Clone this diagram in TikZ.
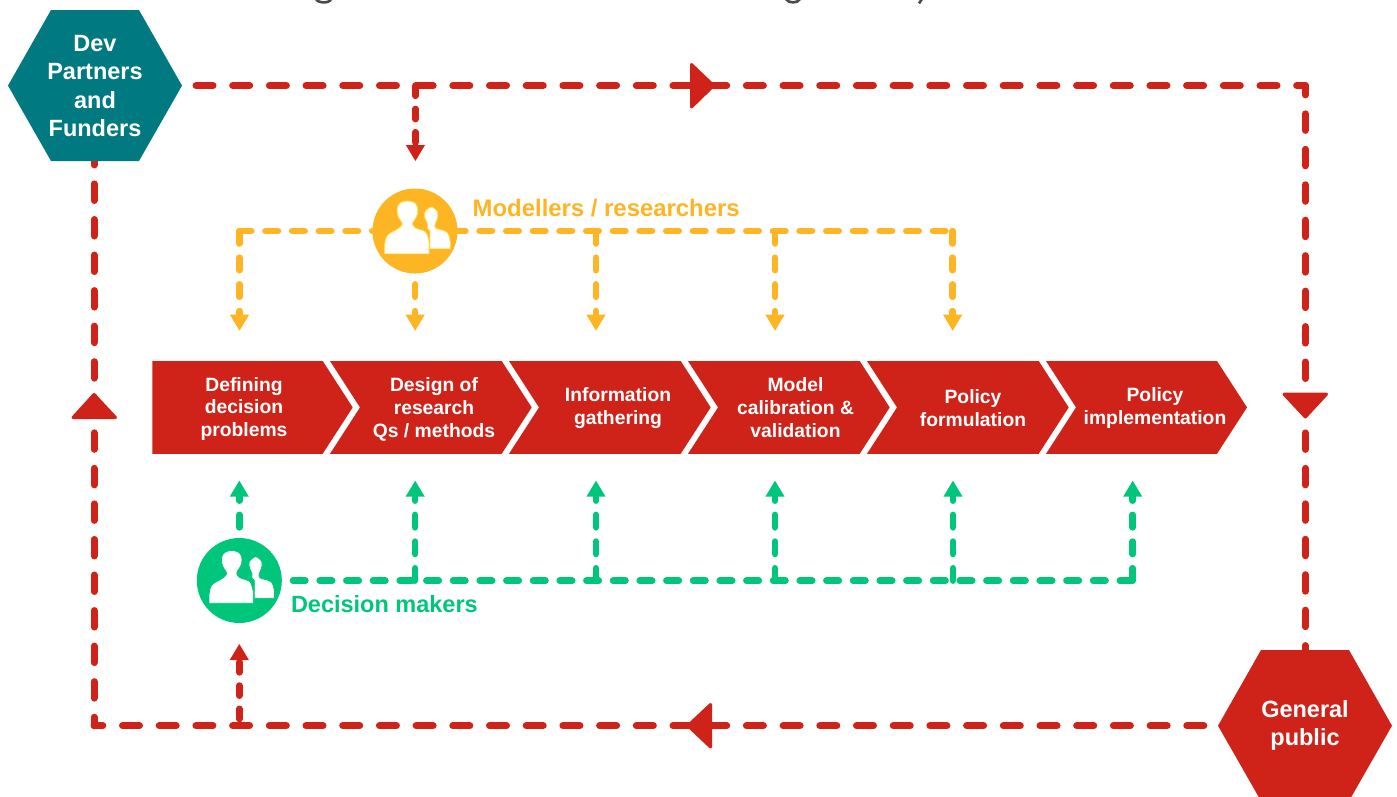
\documentclass[tikz,border=0pt]{standalone}
\usepackage{fontspec}
\setmainfont{Liberation Sans}
\usetikzlibrary{calc}
\definecolor{cred}{HTML}{CF2219}
\definecolor{cteal}{HTML}{007A80}
\definecolor{cyel}{HTML}{FDB523}
\definecolor{cgrn}{HTML}{00C67C}
\definecolor{cyelline}{HTML}{FFE45C}
\definecolor{ctitle}{HTML}{4A4A4A}
\tikzset{
  redline/.style={draw=cred,line width=7pt,line cap=round,line join=round},
  thinredline/.style={draw=cred,line width=6.5pt,line cap=round,line join=round,dash pattern=on 10.2pt off 13.1pt},
  yelline/.style={draw=cyel,line width=6.5pt,line cap=round,line join=round,dash pattern=on 12.5pt off 14.17pt},
  grnline/.style={draw=cgrn,line width=6.5pt,line cap=round,line join=round,dash pattern=on 12.5pt off 14.17pt},
  chevlabel/.style={text=white,font=\bfseries\fontsize{19.3}{23}\selectfont,align=center,inner sep=0pt},
  hexlabel/.style={text=white,font=\bfseries\fontsize{23.5}{28.4}\selectfont,align=center,inner sep=0pt},
  rolelabel/.style={font=\bfseries\fontsize{23.9}{28}\selectfont,inner sep=0pt,anchor=west},
  rolelabelb/.style={font=\bfseries\fontsize{23.5}{28}\selectfont,inner sep=0pt,anchor=west},
  rolecircle/.style={circle,minimum size=85pt,inner sep=0pt},
  bighead/.style={fill=cred,draw=cred,line width=3pt,line join=round},
}
\newcommand{\smallhead}[3]{\fill[#1] ($(#2)+(-9.6,-16*#3)$) -- ($(#2)+(9.6,-16*#3)$) -- (#2) -- cycle;}
\newcommand{\peopleicon}[1]{%
  \fill[white,draw=#1,line width=.8pt] (15,17.8) -- (15,0) -- plot[smooth,tension=.55] coordinates {(12.4,-3) (12.6,-7.2) (10.2,-12.5) (10,-19) (16.3,-23.8) (22.5,-19) (22.3,-12.5) (20.2,-7.2) (20.6,-2.8) (31.7,1.2) (35,9.5) (35,17.8)} -- cycle;
  \fill[white,draw=#1,line width=.8pt] (-30.3,22.8) -- plot[smooth,tension=.55] coordinates {(-30.3,14.5) (-27.6,4.5) (-16,-2.8) (-12.6,-7.2) (-15.5,-12) (-17.5,-17) (-17.5,-24) (-14,-28.5) (-7.6,-30) (-1,-28.5) (2.4,-24) (2.4,-17) (0,-12) (-2.6,-7.2) (0.7,-2.8) (10.7,1.2) (14,11.2)} -- (14,22.8) -- cycle;
}
\begin{document}
\begin{tikzpicture}[x=1pt,y=-1pt]
\useasboundingbox (0,0) rectangle (1397,796);
\clip (0,0) rectangle (1397,796);

% remnants of the cropped title
\draw[ctitle,line width=2.6pt] (316,-1) .. controls (318,3.5) and (330,3.5) .. (331,-1);
\draw[ctitle,line width=2.6pt] (786,-1) .. controls (788,3.5) and (798,3.5) .. (800,-1);
\draw[ctitle,line width=2.6pt] (922,-1) -- (919,3.5);

% anchors
\coordinate (tstart) at (196,85.6);
\coordinate (tbranch) at (415.4,85.6);
\coordinate (tcorner) at (1305.3,85.6);
\coordinate (tbranchend) at (415.4,150);
\coordinate (gptop) at (1305.3,655);
\coordinate (bstart) at (1203.8,725.7);
\coordinate (bcorner) at (94,725.7);
\coordinate (bbranch) at (239.3,719);
\coordinate (bbranchend) at (239.3,652);
\coordinate (devbot) at (94,155);

\coordinate (ycl) at (384.67,231);
\coordinate (ycr) at (452.9,231);
\coordinate (yl) at (239.5,231);
\coordinate (yr) at (952.7,231);
\coordinate (ya) at (415.2,231);
\coordinate (yb) at (596,231);
\coordinate (yc) at (775,231);
\coordinate (y1t) at (239.5,325);
\coordinate (y2t) at (415.2,325);
\coordinate (y3t) at (596,325);
\coordinate (y4t) at (775,325);
\coordinate (y5t) at (952.7,325);
\coordinate (y1h) at (239.5,330.7);
\coordinate (y2h) at (415.2,330.7);
\coordinate (y3h) at (596,330.7);
\coordinate (y4h) at (775,330.7);
\coordinate (y5h) at (952.7,330.7);

\coordinate (gst) at (266.3,580.7);
\coordinate (g1) at (239.3,580.7);
\coordinate (g2) at (415.2,580.7);
\coordinate (g3) at (596,580.7);
\coordinate (g4) at (775,580.7);
\coordinate (g5) at (953,580.7);
\coordinate (g6) at (1132.7,580.7);
\coordinate (g1t) at (239.3,486);
\coordinate (g2t) at (415.2,486);
\coordinate (g3t) at (596,486);
\coordinate (g4t) at (775,486);
\coordinate (g5t) at (953,486);
\coordinate (g6t) at (1132.7,486);
\coordinate (g1h) at (239.3,480.7);
\coordinate (g2h) at (415.2,480.7);
\coordinate (g3h) at (596,480.7);
\coordinate (g4h) at (775,480.7);
\coordinate (g5h) at (953,480.7);
\coordinate (g6h) at (1132.7,480.7);

% red loop
\draw[redline,dash pattern=on 17pt off 19.69pt] (tstart) -- (tcorner);
\draw[redline,dash pattern=on 16.5pt off 18.95pt,dash phase=7.2pt] (tcorner) -- (gptop);
\draw[redline,dash pattern=on 17pt off 19.7pt] (bstart) -- (bcorner);
\draw[redline,dash pattern=on 16.5pt off 19.05pt,dash phase=8pt] (bcorner) -- (devbot);
\draw[thinredline] (tbranch) -- (tbranchend);
\draw[thinredline] (bbranch) -- (bbranchend);
% big triangles
\path[bighead] (691.5,64.5) -- (691.5,107) -- (713.5,85.6) -- cycle;
\path[bighead] (710.5,704.5) -- (710.5,747) -- (688,725.7) -- cycle;
\path[bighead] (1284,394.2) -- (1326.5,394.2) -- (1305.3,417) -- cycle;
\path[bighead] (73,417.5) -- (115.5,417.5) -- (94,394.5) -- cycle;
% small red heads
\coordinate (h1) at (415.4,161);
\coordinate (h2) at (239.3,644);
\smallhead{cred}{h1}{1}
\smallhead{cred}{h2}{-1}

% yellow
\draw[yelline] (ycr) -- (yr);
\draw[yelline] (yr) -- (y5t);
\draw[yelline] (ycl) -- (yl);
\draw[yelline] (yl) -- (y1t);
\draw[yelline] (ya) -- (y2t);
\draw[yelline] (yb) -- (y3t);
\draw[yelline] (yc) -- (y4t);
\smallhead{cyel}{y1h}{1}
\smallhead{cyel}{y2h}{1}
\smallhead{cyel}{y3h}{1}
\smallhead{cyel}{y4h}{1}
\smallhead{cyel}{y5h}{1}

% green
\draw[grnline] (gst) -- (g6);
\draw[grnline] (g6) -- (g6t);
\draw[grnline] (g1) -- (g1t);
\draw[grnline] (g2) -- (g2t);
\draw[grnline] (g3) -- (g3t);
\draw[grnline] (g4) -- (g4t);
\draw[grnline] (g5) -- (g5t);
\smallhead{cgrn}{g1h}{-1}
\smallhead{cgrn}{g2h}{-1}
\smallhead{cgrn}{g3h}{-1}
\smallhead{cgrn}{g4h}{-1}
\smallhead{cgrn}{g5h}{-1}
\smallhead{cgrn}{g6h}{-1}

% chevrons
\fill[cred] (152.3,361) -- (322.7,361) -- (352.7,407.4) -- (322.7,453.8) -- (152.3,453.8) -- cycle;
\foreach \x in {330,509,688,867}{
  \fill[cred] (\x,361) -- (\x+171.7,361) -- (\x+201.7,407.4) -- (\x+171.7,453.8) -- (\x,453.8) -- (\x+30,407.4) -- cycle;
}
\fill[cred] (1046,361) -- (1217,361) -- (1247,407.4) -- (1217,453.8) -- (1046,453.8) -- (1076,407.4) -- cycle;

\node[chevlabel] (c1) at (244,409) {Defining\\decision\\problems};
\node[chevlabel] (c2) at (434,409) {Design of\\research\\Qs / methods};
\node[chevlabel] (c3) at (618,408) {Information\\gathering};
\node[chevlabel] (c4) at (795.5,407.5) {Model\\calibration \&\\validation};
\node[chevlabel] (c5) at (973,408.5) {Policy\\formulation};
\node[chevlabel] (c6) at (1155,408) {Policy\\implementation};

% hexagons
\fill[cteal] (8,85.6) -- (51,10) -- (139,10) -- (182,85.6) -- (139,161) -- (51,161) -- cycle;
\fill[cred] (1218,725.7) -- (1261,650) -- (1349,650) -- (1392,725.7) -- (1349,801) -- (1261,801) -- cycle;
\node[hexlabel] (dev) at (95,86) {Dev\\Partners\\and\\Funders};
\node[hexlabel] (pub) at (1305,725.5) {General\\public};

% people
\node[rolecircle,fill=cyel] (mod) at (415,231) {};
\node[rolecircle,fill=cgrn] (dec) at (239.3,580.5) {};
\begin{scope}[shift={(mod.center)}]\peopleicon{cyelline}\end{scope}
\begin{scope}[shift={(dec.center)}]\peopleicon{cgrn}\end{scope}
\node[rolelabel,text=cyel] (modl) at (472.5,208.5) {Modellers / researchers};
\node[rolelabelb,text=cgrn] (decl) at (290.8,604) {Decision makers};
\end{tikzpicture}
\end{document}
